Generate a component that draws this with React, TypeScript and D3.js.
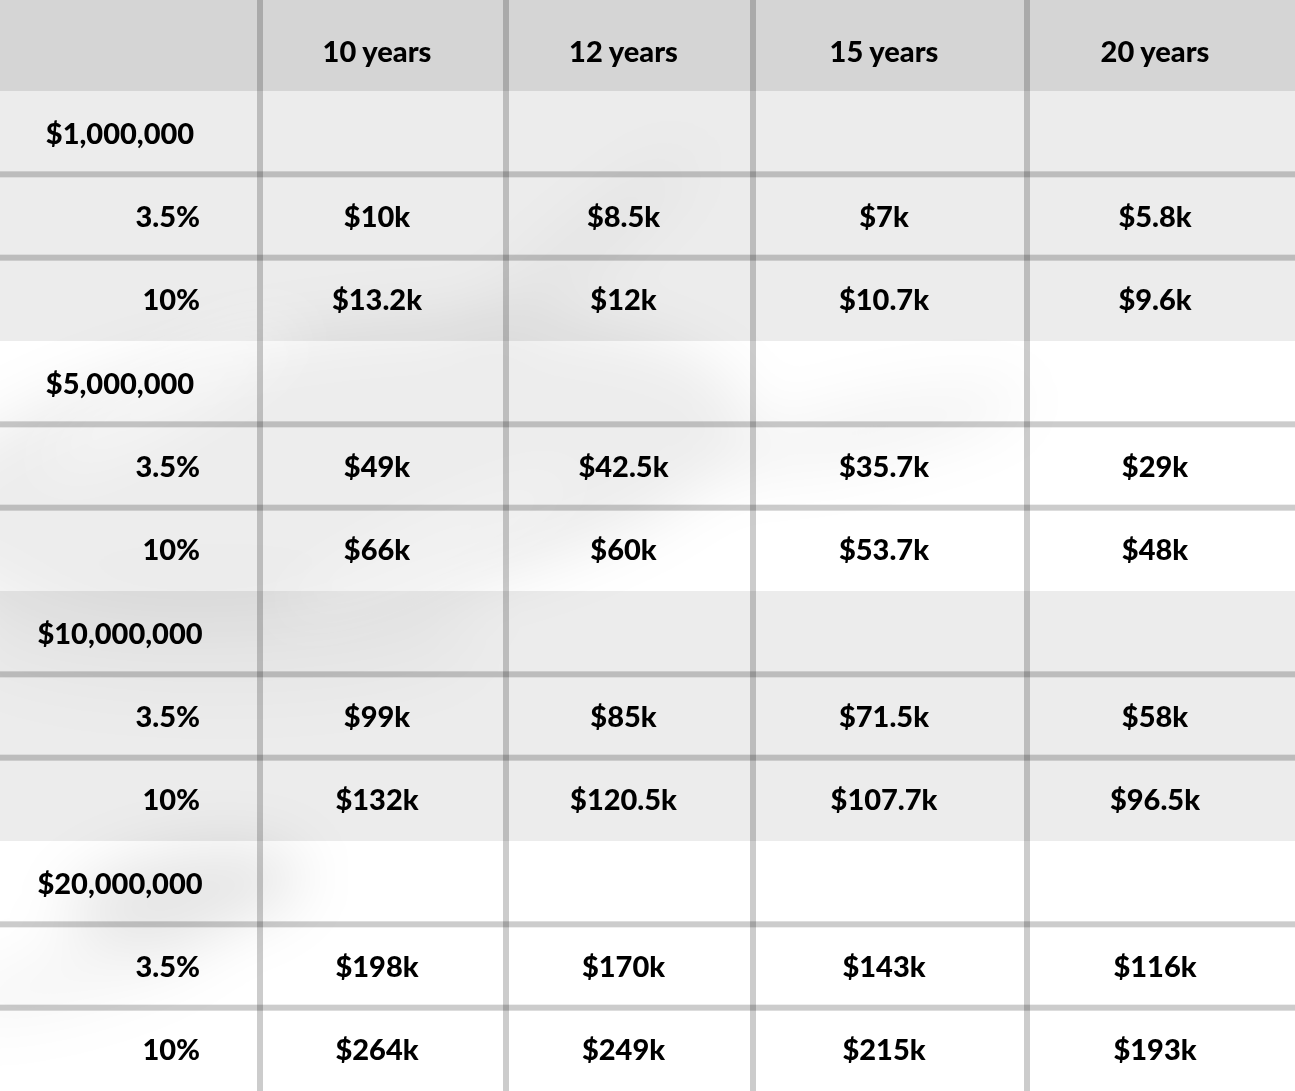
import React, { useEffect } from 'react';
import * as d3 from 'd3';

// table content
const columns = ['10 years', '12 years', '15 years', '20 years'];
const amounts = ['$1,000,000', '$5,000,000', '$10,000,000', '$20,000,000'];
const rates = ['3.5%', '10%'];
const values35 = [
  ['$10k', '$8.5k', '$7k', '$5.8k'],
  ['$49k', '$42.5k', '$35.7k', '$29k'],
  ['$99k', '$85k', '$71.5k', '$58k'],
  ['$198k', '$170k', '$143k', '$116k'],
];
const values10 = [
  ['$13.2k', '$12k', '$10.7k', '$9.6k'],
  ['$66k', '$60k', '$53.7k', '$48k'],
  ['$132k', '$120.5k', '$107.7k', '$96.5k'],
  ['$264k', '$249k', '$215k', '$193k'],
];

const W = 1295;
const H = 1091;
const headerH = 91;
const colWidths = [260, 246, 247, 274, 268];
const font = 'Lato, "Open Sans", sans-serif';
const fs = 29;
const fw = 900;

export default function App() {
  useEffect(() => {
    document.body.style.margin = '0';
  }, []);

  // rows: one heading row per amount, then one row per rate
  const rows: { key: string; label: string; kind: string; g: number; vals?: string[] }[] = [];
  amounts.forEach((a, i) => {
    rows.push({ key: 'g' + i, label: a, kind: 'group', g: i });
    rows.push({ key: 'r35-' + i, label: rates[0], kind: 'rate', g: i, vals: values35[i] });
    rows.push({ key: 'r10-' + i, label: rates[1], kind: 'rate', g: i, vals: values10[i] });
  });

  const y = d3.scaleBand().domain(rows.map(r => r.key)).range([headerH, H]);
  const edges = [0, ...d3.cumsum(colWidths)];
  const x = d3.scaleOrdinal<string, number>().domain(columns).range(columns.map((c, i) => edges[i + 1]));
  const colW = (c: string) => colWidths[columns.indexOf(c) + 1];
  const bw = y.bandwidth();
  const groupFill = ['#ececec', '#ffffff'];
  const lineOpacity = 0.2;

  return (
    <svg width={W} height={H} style={{ display: 'block' }} fontFamily={font}>
      <defs>
        <filter id="soft" x="-50%" y="-50%" width="200%" height="200%">
          <feGaussianBlur stdDeviation="30" />
        </filter>
        <clipPath id="body">
          <rect x={0} y={headerH} width={W} height={H - headerH} />
        </clipPath>
      </defs>

      {/* header band */}
      <rect x={0} y={0} width={W} height={headerH} fill="#d5d5d5" />

      {/* group backgrounds */}
      {amounts.map((a, i) => {
        const top = y('g' + i)!;
        const bottom = y('r10-' + i)! + bw;
        return <rect key={a} x={0} y={top} width={W} height={bottom - top} fill={groupFill[i % 2]} />;
      })}

      {/* soft leaf shadows over the table */}
      <g clipPath="url(#body)" filter="url(#soft)" fill="#000">
        <ellipse cx={330} cy={470} rx={420} ry={140} opacity={0.07} transform="rotate(-8 330 470)" />
        <ellipse cx={870} cy={430} rx={160} ry={28} opacity={0.05} transform="rotate(-12 870 430)" />
        <ellipse cx={185} cy={892} rx={120} ry={42} opacity={0.1} transform="rotate(-10 185 892)" />
        <ellipse cx={80} cy={975} rx={140} ry={30} opacity={0.04} transform="rotate(-15 80 975)" />
        <ellipse cx={220} cy={640} rx={260} ry={60} opacity={0.025} />
        <ellipse cx={580} cy={250} rx={150} ry={24} opacity={0.035} transform="rotate(-40 580 250)" />
      </g>
      <g clipPath="url(#body)" filter="url(#soft)" fill="#fff">
        <ellipse cx={170} cy={395} rx={150} ry={24} opacity={0.6} transform="rotate(-30 170 395)" />
        <ellipse cx={430} cy={545} rx={170} ry={22} opacity={0.4} transform="rotate(-25 430 545)" />
      </g>

      {/* horizontal rules above each rate row */}
      {rows.filter(r => r.kind === 'rate').map(r => (
        <rect key={'h' + r.key} x={0} y={y(r.key)! - 3} width={W} height={6} fill="#000" opacity={lineOpacity} />
      ))}

      {/* vertical rules */}
      {columns.map(c => (
        <rect key={'v' + c} x={x(c) - 3} y={0} width={6} height={H} fill="#000" opacity={lineOpacity} />
      ))}

      {/* column headers */}
      {columns.map(c => (
        <text key={c} x={x(c) + colW(c) / 2 - 6} y={headerH / 2 + 16} textAnchor="middle"
          fontSize={fs} fontWeight={fw} fill="#000">{c}</text>
      ))}

      {/* row labels and values */}
      {rows.map(r => {
        const cy = y(r.key)! + bw / 2 + 11;
        if (r.kind === 'group') {
          return (
            <text key={r.key} x={edges[1] / 2 - 10} y={cy} textAnchor="middle"
              fontSize={fs} fontWeight={fw} fill="#000">{r.label}</text>
          );
        }
        return (
          <g key={r.key}>
            <text x={edges[1] - 60} y={cy} textAnchor="end" fontSize={fs} fontWeight={fw} fill="#000">{r.label}</text>
            {r.vals!.map((v, j) => (
              <text key={j} x={x(columns[j]) + colW(columns[j]) / 2 - 6} y={cy} textAnchor="middle"
                fontSize={fs} fontWeight={fw} fill="#000">{v}</text>
            ))}
          </g>
        );
      })}
    </svg>
  );
}
